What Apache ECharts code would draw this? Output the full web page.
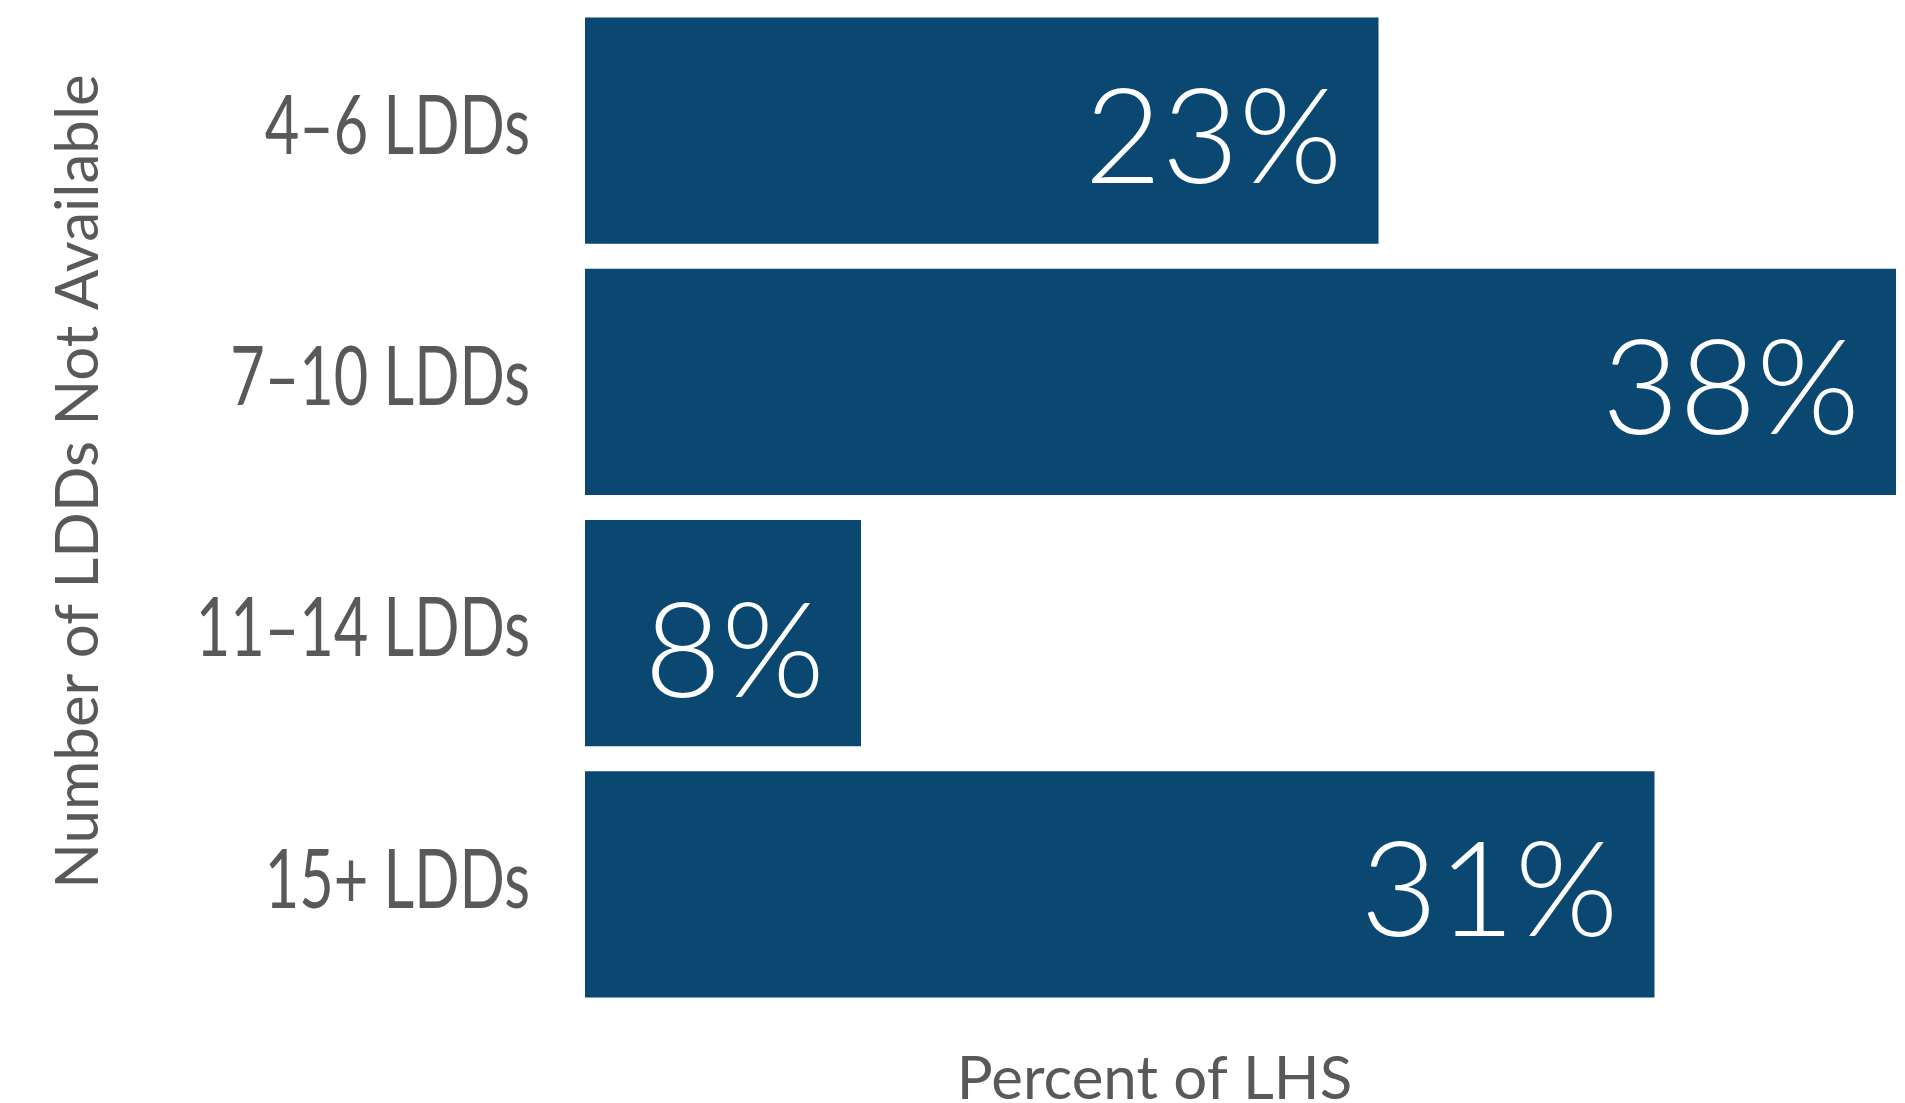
<!DOCTYPE html>
<html>
<head>
<meta charset="utf-8">
<script src="https://cdn.jsdelivr.net/npm/echarts@6/dist/echarts.min.js"></script>
<style>
  html, body { margin: 0; padding: 0; background: #ffffff; overflow: hidden; }
  #chart { width: 1905px; height: 1103px; }
</style>
</head>
<body>
<div id="chart"></div>
<script>
// Share of LHS by number of LDDs not available
const categories = ['4–6 LDDs', '7–10 LDDs', '11–14 LDDs', '15+ LDDs'];
const percents = [23, 38, 8, 31];
const xAxisTitle = 'Percent of LHS';
const yAxisTitle = 'Number of LDDs Not Available';

const barColor = '#0a4872';
const textGrey = '#595959';

// the short bar's label sits a little lower in its bar
const labelDrop = { 2: 12 };

const chart = echarts.init(document.getElementById('chart'), null, { renderer: 'canvas' });

chart.setOption({
  animation: false,
  backgroundColor: '#ffffff',
  grid: {
    left: 585, right: 9, top: 5, bottom: 93,
    containLabel: false,
    outerBoundsMode: 'none'
  },
  xAxis: {
    type: 'value',
    min: 0,
    max: 38,
    axisLine: { show: false },
    axisTick: { show: false },
    axisLabel: { show: false },
    splitLine: { show: false },
    name: xAxisTitle,
    nameLocation: 'middle',
    nameGap: 40,
    nameTextStyle: {
      fontFamily: 'Lato, "Noto Sans", sans-serif',
      fontSize: 60,
      color: textGrey,
      padding: [0, 172, 0, 0]
    }
  },
  yAxis: {
    type: 'category',
    data: categories,
    inverse: true,
    axisLine: { show: false },
    axisTick: { show: false },
    splitLine: { show: false },
    axisLabel: { show: false },
    name: yAxisTitle,
    nameLocation: 'middle',
    nameGap: 476,
    nameRotate: 90,
    nameTextStyle: {
      fontFamily: 'Lato, "Noto Sans", sans-serif',
      fontSize: 60,
      color: textGrey,
      padding: [0, 0, 0, 52]
    }
  },
  series: [
    {
      type: 'bar',
      data: percents.map((v, i) => labelDrop[i]
        ? { value: v, label: { offset: [0, 9 + labelDrop[i]] } }
        : v),
      barCategoryGap: '10%',
      itemStyle: { color: barColor },
      label: {
        show: true,
        position: 'insideRight',
        distance: 36,
        offset: [0, 9],
        formatter: p => p.value + '%',
        fontFamily: 'Lato, "Noto Sans", sans-serif',
        fontWeight: 300,
        fontSize: 133,
        color: '#ffffff'
      }
    },
    {
      // category names, set in a narrow face to the left of each bar
      type: 'custom',
      silent: true,
      clip: false,
      data: categories.map((c, i) => [0, i]),
      renderItem: (params, api) => {
        const p = api.coord([0, api.value(1)]);
        return {
          type: 'text',
          x: p[0] - 55,
          y: p[1] - 3,
          scaleX: 0.735,
          style: {
            text: categories[params.dataIndex],
            align: 'right',
            verticalAlign: 'middle',
            fontFamily: 'Lato, "Noto Sans", sans-serif',
            fontWeight: 400,
            fontSize: 81,
            fill: textGrey
          }
        };
      }
    }
  ]
});
</script>
</body>
</html>
